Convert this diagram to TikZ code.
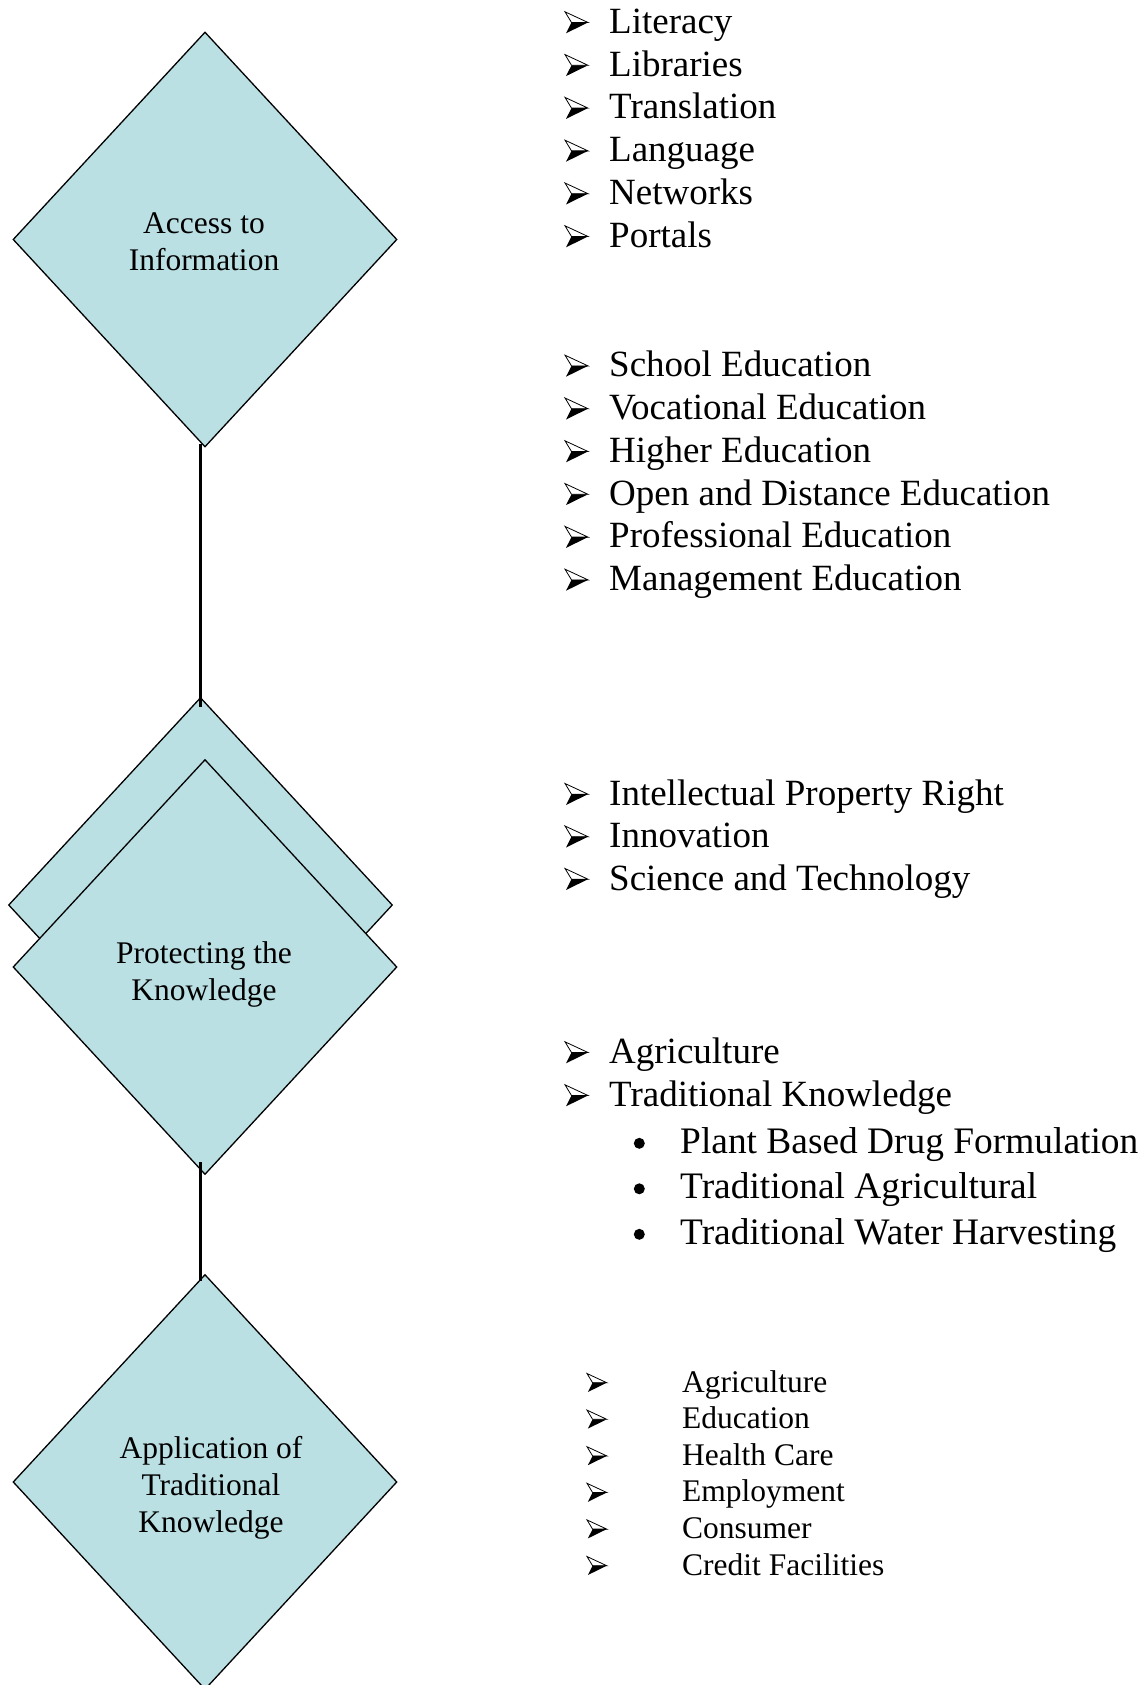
\documentclass[tikz,border=0pt]{standalone}
\usepackage{fontspec}
\setmainfont{Liberation Serif}
\usetikzlibrary{shapes.geometric}

\definecolor{diafill}{RGB}{186,224,227}

\tikzset{
  topic/.style={shape=diamond, draw=black, line width=1.3pt, fill=diafill,
    minimum width=384pt, minimum height=415pt, inner sep=0pt},
  topictext/.style={inner sep=0pt, align=center,
    font=\fontsize{31.5pt}{37pt}\selectfont},
  listitem/.style={anchor=base west, inner sep=0pt,
    font=\fontsize{37pt}{42.8pt}\selectfont},
  subitem/.style={anchor=base west, inner sep=0pt,
    font=\fontsize{37.4pt}{45pt}\selectfont},
  smallitem/.style={anchor=base west, inner sep=0pt,
    font=\fontsize{31.5pt}{37pt}\selectfont},
  conn/.style={draw=black, line width=2.1pt},
  % three-dimensional arrowhead bullet: light upper facet, dark lower facet
  arrowbullet/.pic={
    \filldraw[fill=white, draw=black, line width=0.8pt, line join=miter]
      (0,-21.5) -- (23,-10.8) -- (6.5,-10.8) -- cycle;
    \fill[black] (6.5,-10.8) -- (23,-10.8) -- (1,0) -- cycle;
  },
}

\begin{document}
\begin{tikzpicture}[x=1pt,y=-1pt]
  \useasboundingbox (0,0) rectangle (1145,1685);
  \clip (0,0) rectangle (1145,1685);
  \fill[white] (0,0) rectangle (1145,1685);

  % diamonds
  \node[topic] (back)   at (200.5,905) {};
  \node[topic] (front)  at (205,967)   {};
  \node[topic] (access) at (205,239.5) {};
  \node[topic] (app)    at (205,1482)  {};

  % diamond captions
  \node[topictext] (access-t) at ([xshift=-1pt,yshift=-2pt]access.center)
    {Access to\\Information};
  \node[topictext] (front-t) at ([xshift=-1pt,yshift=-7.5pt]front.center)
    {Protecting the\\Knowledge};
  \node[topictext] (app-t) at ([xshift=6pt,yshift=-5.5pt]app.center)
    {Application of\\Traditional\\Knowledge};

  % connectors
  \coordinate (c1a) at ([yshift=4pt]access.south);
  \coordinate (c1b) at ([yshift=-10pt]back.north);
  \coordinate (c2a) at ([yshift=13pt]front.south);
  \coordinate (c2b) at ([yshift=-7pt]app.north);
  \draw[conn] (c1a -| back.north) -- (c1b);
  \draw[conn] (c2a -| back.north) -- (c2b -| back.north);

  % access to information
  \foreach \t [count=\i from 0] in {Literacy, Libraries, Translation,
      Language, Networks, Portals}{
    \pic at (565,33.3+42.8*\i) {arrowbullet};
    \node[listitem] (info\i) at (609,33.3+42.8*\i) {\t};
  }

  % education
  \foreach \t [count=\i from 0] in {School Education, Vocational Education,
      Higher Education, Open and Distance Education,
      Professional Education, Management Education}{
    \pic at (565,376.7+42.8*\i) {arrowbullet};
    \node[listitem] (edu\i) at (609,376.7+42.8*\i) {\t};
  }

  % protection
  \foreach \t [count=\i from 0] in {Intellectual Property Right, Innovation,
      Science and Technology}{
    \pic at (565,805+42.5*\i) {arrowbullet};
    \node[listitem] (prot\i) at (609,805+42.5*\i) {\t};
  }

  % traditional knowledge
  \foreach \t [count=\i from 0] in {Agriculture, Traditional Knowledge}{
    \pic at (565,1063.3+43*\i) {arrowbullet};
    \node[listitem] (trad\i) at (609,1063.3+43*\i) {\t};
  }
  \foreach \t [count=\i from 0] in {Plant Based Drug Formulation,
      Traditional Agricultural, Traditional Water Harvesting}{
    \fill[black] (639.3,1143.3+45.5*\i) circle (5.5);
    \node[subitem] (sub\i) at (680,1153+45.5*\i) {\t};
  }

  % applications
  \foreach \t [count=\i from 0] in {Agriculture, Education, Health Care,
      Employment, Consumer, Credit Facilities}{
    \pic[scale=0.86] at (587,1392+36.6*\i) {arrowbullet};
    \node[smallitem] (appl\i) at (682,1392+36.6*\i) {\t};
  }
\end{tikzpicture}
\end{document}
